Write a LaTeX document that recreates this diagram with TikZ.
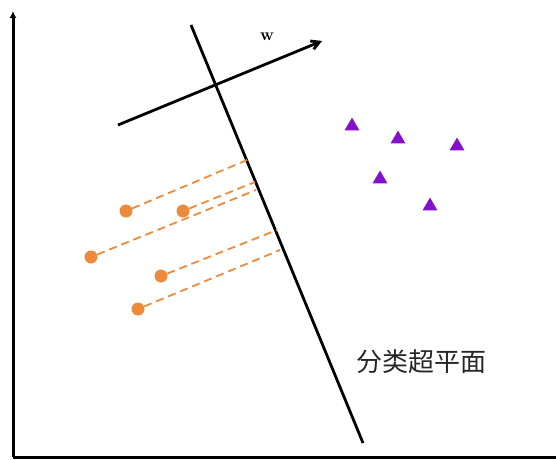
\documentclass[tikz,border=0pt]{standalone}
\usepackage{fontspec}
\newfontfamily\cjk{Noto Sans CJK SC}
\usepackage{xcolor}
\usetikzlibrary{arrows.meta, positioning, shapes.geometric}
\definecolor{svmorange}{HTML}{ED8B3C}
\definecolor{svmpurple}{HTML}{8210CC}

\begin{document}
\begin{tikzpicture}[
  x=1pt, y=-1pt,
  axis/.style={line width=3pt, -{Latex[length=7pt,width=7pt]}},
  plane/.style={line width=2.8pt},
  negsample/.style={circle, fill=svmorange, minimum size=13pt, inner sep=0pt},
  possample/.style={regular polygon, regular polygon sides=3, fill=svmpurple,
    minimum size=17pt, inner sep=0pt},
  proj/.style={svmorange, line width=1.8pt, dash pattern=on 8pt off 5pt},
]
  \useasboundingbox (0,0) rectangle (556,459);
  % axes
  \coordinate (o) at (13,457);
  \coordinate (ytop) at (13,11);
  \coordinate (xend) at (558,457);
  \draw[axis] (o) -- (ytop);
  \draw[line width=3pt] (o) -- (xend);
  % hyperplane and normal vector
  \coordinate (h1) at (191,25);
  \coordinate (h2) at (363,443);
  \draw[plane] (h1) -- (h2);
  \coordinate (w1) at (118,125);
  \coordinate (w2) at (322,41);
  \draw[plane, -{Straight Barb[length=8pt,width=9pt]}] (w1) -- (w2);
  \node[font=\bfseries\fontsize{17}{18}\selectfont] (wlabel) at (267,37) {w};
  \node[font=\cjk\fontsize{26}{28}\selectfont, text=black!85] (label) at (421,362) {分类超平面};
  % negative samples
  \node[negsample] (c1) at (126,211) {};
  \node[negsample] (c2) at (183,211) {};
  \node[negsample] (c3) at (91,257) {};
  \node[negsample] (c4) at (161,276) {};
  \node[negsample] (c5) at (138,309) {};
  % projections onto the hyperplane
  \coordinate (p1) at (247,160);
  \coordinate (p2) at (255,182);
  \coordinate (p3) at (256,190);
  \coordinate (p4) at (277,230);
  \coordinate (p5) at (280,250);
  \foreach \i in {1,...,5}
    \draw[proj] (c\i) -- (p\i);
  % positive samples
  \node[possample] (t1) at (352,126) {};
  \node[possample] (t2) at (398,139) {};
  \node[possample] (t3) at (457,146) {};
  \node[possample] (t4) at (380,179) {};
  \node[possample] (t5) at (430,206) {};
\end{tikzpicture}
\end{document}
